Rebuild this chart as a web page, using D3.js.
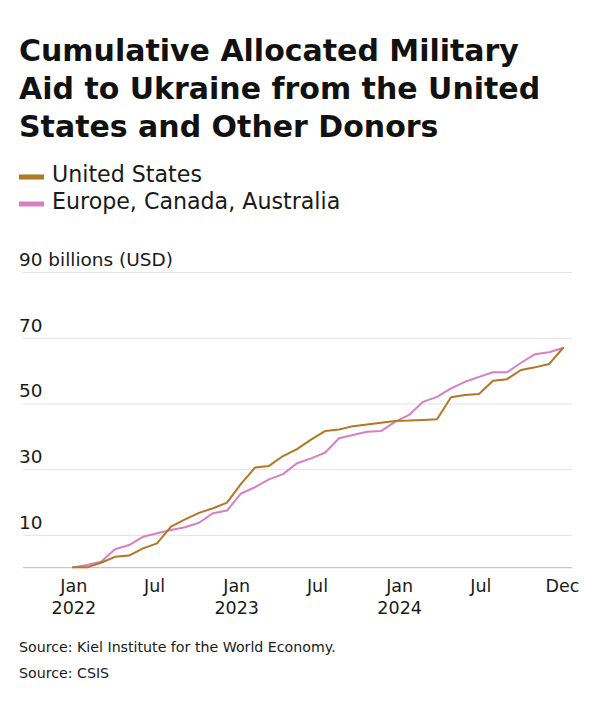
<!DOCTYPE html>
<html>
<head>
<meta charset="utf-8">
<script src="https://cdn.jsdelivr.net/npm/d3@7"></script>
<style>
  html, body { margin: 0; padding: 0; background: #ffffff; }
  svg { display: block; }
</style>
</head>
<body>
<svg id="chart" width="600" height="709"></svg>
<script>
// ---- data ----
const months = [
  "2022-01","2022-02","2022-03","2022-04","2022-05","2022-06","2022-07","2022-08","2022-09","2022-10","2022-11","2022-12",
  "2023-01","2023-02","2023-03","2023-04","2023-05","2023-06","2023-07","2023-08","2023-09","2023-10","2023-11","2023-12",
  "2024-01","2024-02","2024-03","2024-04","2024-05","2024-06","2024-07","2024-08","2024-09","2024-10","2024-11","2024-12"
];
const unitedStates = [
  0.1, 0.1, 1.5, 3.3, 3.7, 5.9, 7.4, 12.5, 14.7, 16.7, 18.1, 19.8,
  25.5, 30.5, 31.0, 34.0, 36.1, 39.0, 41.6, 42.1, 43.1, 43.6, 44.1, 44.7,
  44.8, 45.0, 45.2, 51.9, 52.6, 52.9, 56.9, 57.4, 60.2, 61.0, 62.0, 66.9
];
const europeCanadaAustralia = [
  0.1, 0.8, 1.8, 5.6, 6.9, 9.4, 10.5, 11.5, 12.3, 13.7, 16.6, 17.4,
  22.6, 24.5, 26.9, 28.5, 31.8, 33.3, 35.0, 39.4, 40.4, 41.4, 41.6, 44.4,
  46.5, 50.5, 52.0, 54.6, 56.6, 58.1, 59.5, 59.5, 62.4, 65.0, 65.6, 66.9
];
const seriesNames = ["United States", "Europe, Canada, Australia"];
const seriesColors = ["#b27624", "#d77fc4"];
const yTicks = [10, 30, 50, 70, 90];
const xTickDates = ["2022-01-01","2022-07-01","2023-01-01","2023-07-01","2024-01-01","2024-07-01","2024-12-31"];
const xTickLabels = [["Jan","2022"],["Jul"],["Jan","2023"],["Jul"],["Jan","2024"],["Jul"],["Dec"]];
const titleLines = ["Cumulative Allocated Military", "Aid to Ukraine from the United", "States and Other Donors"];
const yUnitLabel = "billions (USD)";
const sources = ["Source: Kiel Institute for the World Economy.", "Source: CSIS"];

// ---- drawing ----
const svg = d3.select("#chart");
const bodyFont = "'DejaVu Sans', sans-serif";
const titleFont = "'DejaVu Sans', sans-serif";

function fitWidth(sel, target) {
  const w = sel.node().getComputedTextLength();
  const fs = parseFloat(sel.attr("font-size"));
  const nfs = fs * target / w;
  sel.attr("font-size", nfs);
  return nfs;
}

// Title
const t0 = svg.append("text").attr("x", 19).attr("y", 61)
  .attr("font-family", titleFont).attr("font-weight", 700).attr("font-size", 30)
  .attr("fill", "#111").text(titleLines[0]);
const tfs = fitWidth(t0, 500);
titleLines.slice(1).forEach((l, i) => {
  svg.append("text").attr("x", 19).attr("y", 99 + i * 38)
    .attr("font-family", titleFont).attr("font-weight", 700).attr("font-size", tfs)
    .attr("fill", "#111").text(l);
});

// Legend
const legendY = [182, 209];
let lfs = 20;
seriesNames.forEach((name, i) => {
  svg.append("rect").attr("x", 19).attr("y", legendY[i] - 7.5).attr("width", 25).attr("height", 5)
    .attr("fill", seriesColors[i]);
  const t = svg.append("text").attr("x", 52).attr("y", legendY[i])
    .attr("font-family", bodyFont).attr("font-size", lfs).attr("fill", "#1a1a1a").text(name);
  if (i === 0) lfs = fitWidth(t, 150);
});

// Scales
const x = d3.scalePoint().domain(months).range([73, 563]);
const xTime = d3.scaleTime().domain([new Date(2022, 0, 1), new Date(2025, 0, 1)]).range([73.3, 562.5]);
const y = d3.scaleLinear().domain([0, 90]).range([567.7, 272.1]);

// Gridlines via axis
const gridLeft = 23, gridRight = 572;
const yAxis = d3.axisRight(y).tickValues(yTicks).tickSize(gridRight - gridLeft).tickFormat("");
const gy = svg.append("g").attr("transform", `translate(${gridLeft},0)`).call(yAxis);
gy.select(".domain").remove();
gy.selectAll(".tick line").attr("stroke", "#e2e2e2").attr("stroke-width", 1);

// Y labels
const ylab = svg.append("g");
const topLab = ylab.append("text").attr("x", 19).attr("y", y(90) - 6)
  .attr("font-family", bodyFont).attr("font-size", 18).attr("fill", "#1a1a1a")
  .text(yTicks[yTicks.length - 1] + " " + yUnitLabel);
const yfs = fitWidth(topLab, 154);
yTicks.slice(0, -1).forEach(v => {
  ylab.append("text").attr("x", 19).attr("y", y(v) - 6)
    .attr("font-family", bodyFont).attr("font-size", yfs).attr("fill", "#1a1a1a")
    .text(v);
});

// Baseline
svg.append("line").attr("x1", gridLeft).attr("x2", gridRight)
  .attr("y1", y(0)).attr("y2", y(0)).attr("stroke", "#b8b8b8").attr("stroke-width", 1);

// X axis labels
const parse = d3.timeParse("%Y-%m-%d");
const xAxis = d3.axisBottom(xTime).tickValues(xTickDates.map(parse)).tickSize(0).tickFormat("");
const gx = svg.append("g").attr("transform", `translate(0,${y(0)})`).call(xAxis);
gx.select(".domain").remove();
gx.selectAll(".tick").each(function(d, i) {
  const t = d3.select(this).append("text").attr("text-anchor", "middle")
    .attr("font-family", bodyFont).attr("font-size", 17.5).attr("fill", "#1a1a1a");
  xTickLabels[i].forEach((s, j) => {
    t.append("tspan").attr("x", 0).attr("y", 24 + j * 22.6).text(s);
  });
});

// Lines
const seriesData = [unitedStates, europeCanadaAustralia];
const line = d3.line().x((d, i) => x(months[i])).y(d => y(d));
[1, 0].forEach(k => {
  svg.append("path").datum(seriesData[k]).attr("d", line)
    .attr("fill", "none").attr("stroke", seriesColors[k]).attr("stroke-width", 2)
    .attr("stroke-linejoin", "round").attr("stroke-linecap", "round");
});

// Sources
const s0 = svg.append("text").attr("x", 19).attr("y", 651.5)
  .attr("font-family", bodyFont).attr("font-size", 13).attr("fill", "#1a1a1a").text(sources[0]);
const sfs = fitWidth(s0, 317);
svg.append("text").attr("x", 19).attr("y", 678)
  .attr("font-family", bodyFont).attr("font-size", sfs).attr("fill", "#1a1a1a").text(sources[1]);
</script>
</body>
</html>
